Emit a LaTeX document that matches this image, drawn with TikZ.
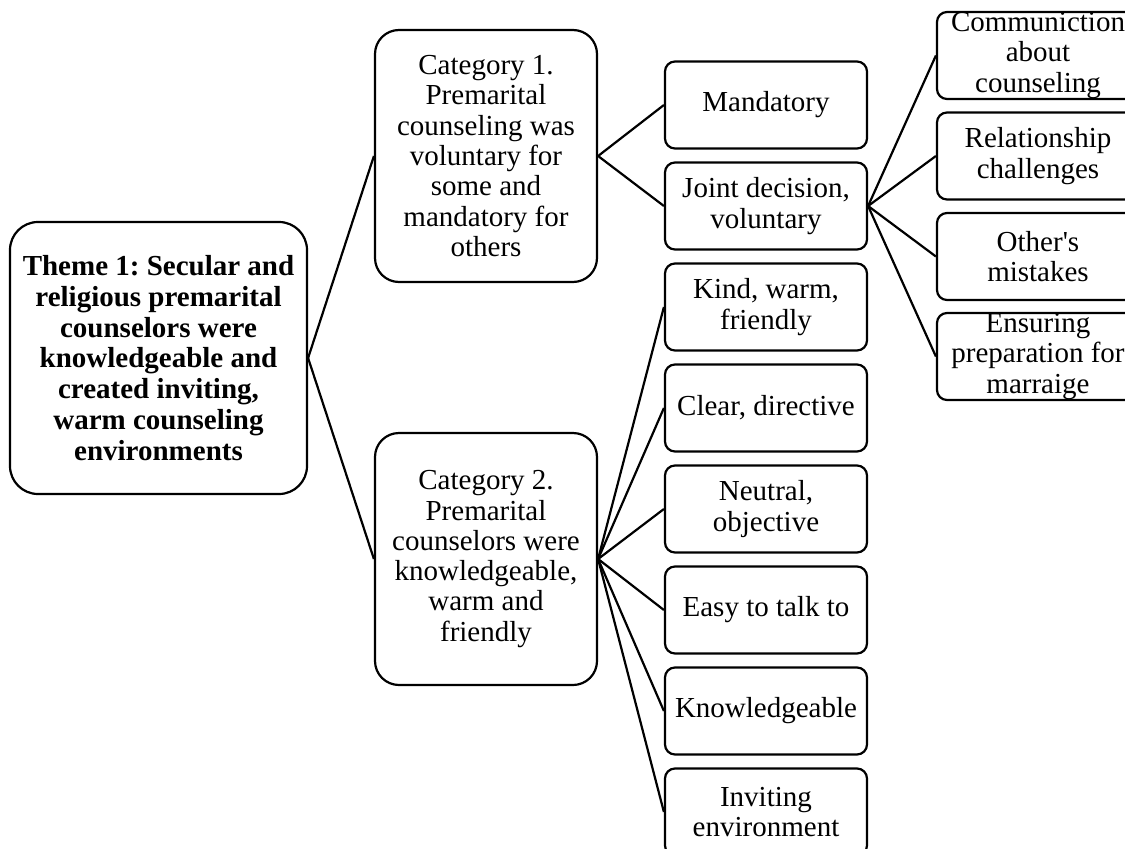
\documentclass[tikz,border=0pt]{standalone}
\usepackage{fontspec}
\setmainfont{Liberation Serif}[Ligatures=TeXOff]
\frenchspacing
\begin{document}
\begin{tikzpicture}[x=1pt,y=-1pt,
  basebox/.style={draw, line width=2.2pt, align=center, inner sep=0pt,
    font=\fontsize{29}{30.3}\selectfont},
  themebox/.style={basebox, rounded corners=28pt, minimum width=297pt, minimum height=272pt,
    font=\fontsize{29}{30.7}\selectfont\bfseries},
  catbox/.style={basebox, rounded corners=24pt, minimum width=222pt, minimum height=252pt},
  leaf/.style={basebox, rounded corners=10pt, minimum width=202pt, minimum height=87pt},
  conn/.style={line width=2.2pt}
]
\useasboundingbox (0,0) rectangle (1125,849);

% root theme
\node[themebox] (theme) at (158.5,358) {Theme 1: Secular and\\religious premarital\\counselors were\\knowledgeable and\\created inviting,\\warm counseling\\environments};

% categories
\node[catbox] (cat1) at (486,156) {Category 1.\\Premarital\\counseling was\\voluntary for\\some and\\mandatory for\\others};
\node[catbox] (cat2) at (486,559) {Category 2.\\Premarital\\counselors were\\knowledgeable,\\warm and\\friendly};

% third level
\node[leaf] (mand)  at (766,105) {\raisebox{-3pt}{Mandatory}};
\node[leaf] (joint) at (766,206) {Joint decision,\\voluntary};
\node[leaf] (kind)  at (766,307) {Kind, warm,\\friendly};
\node[leaf] (clear) at (766,408) {Clear, directive};
\node[leaf] (neut)  at (766,509) {Neutral,\\objective};
\node[leaf] (easy)  at (766,610) {\raisebox{-2pt}{Easy to talk to}};
\node[leaf] (know)  at (766,711) {Knowledgeable};
\node[leaf] (invit) at (766,812) {Inviting\\environment};

% fourth level
\node[leaf] (comm)  at (1038,55.5)  {Communiction\\about\\counseling};
\node[leaf] (rel)   at (1038,156)   {Relationship\\challenges};
\node[leaf] (other) at (1038,256.5) {Other's\\mistakes};
\node[leaf] (ensur) at (1038,356.5) {Ensuring\\preparation for\\marraige};

% connectors
\draw[conn] (theme.east) -- (cat1.west);
\draw[conn] (theme.east) -- (cat2.west);
\foreach \c in {mand,joint}
  \draw[conn] (cat1.east) -- (\c.west);
\foreach \c in {kind,clear,neut,easy,know,invit}
  \draw[conn] (cat2.east) -- (\c.west);
\foreach \c in {comm,rel,other,ensur}
  \draw[conn] (joint.east) -- (\c.west);
\end{tikzpicture}
\end{document}
